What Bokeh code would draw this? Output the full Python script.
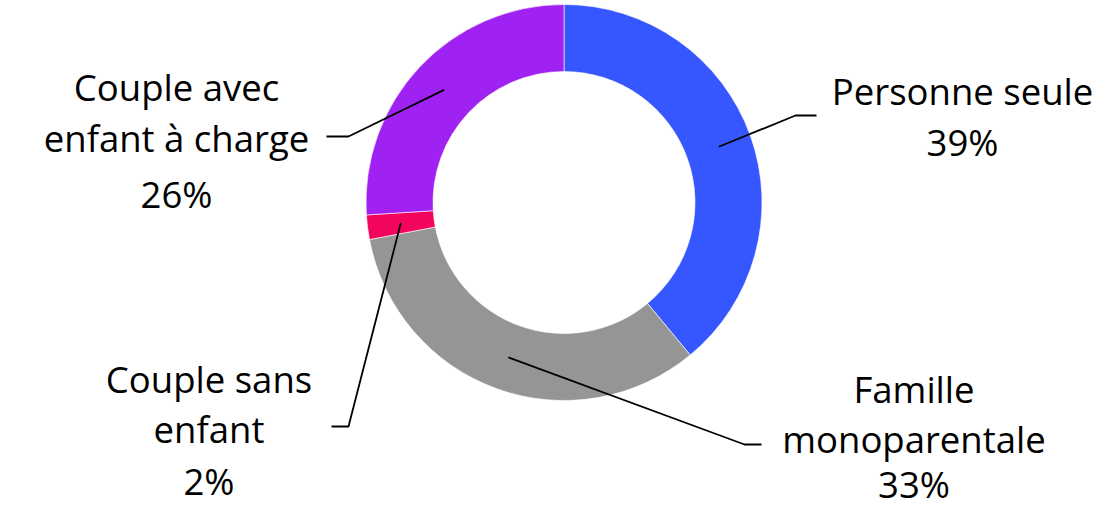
import numpy as np
from bokeh.plotting import figure
from bokeh.models import Range1d, ColumnDataSource
from bokeh.core.properties import value
from bokeh.embed import file_html
from bokeh.resources import INLINE

# ---- data ----
categories = ["Personne seule", "Famille monoparentale", "Couple sans enfant", "Couple avec enfant à charge"]
shares = [39, 33, 2, 26]
pct_labels = ["39%", "33%", "2%", "26%"]
label_lines = [["Personne seule"], ["Famille", "monoparentale"], ["Couple sans", "enfant"], ["Couple avec", "enfant à charge"]]
colors = ["#3656FF", "#949594", "#F2055C", "#9F22F2"]

# ---- layout (pixel units, centre of donut at 0,0, y up) ----
R_OUT, R_IN = 198, 131
elbows = [(231.5, 87), (180.5, -242), (-215.5, -224), (-215.5, 66)]
ends = [(252.5, 87), (197.5, -242), (-232.5, -224), (-237.5, 66)]
text_x = [398.5, 350, -355, -387.5]
# text baselines relative to donut centre (y up)
text_base = [[101, 50], [-197, -247, -292], [-187, -237, -289], [105, 54, -2]]
FONT = "Open Sans"
FS = 36.5
MID_OFF = 0.3 * FS

W, H = 1101, 510
p = figure(width=W, height=H, output_backend="svg", toolbar_location=None,
           x_range=Range1d(-563.5, 537.5), y_range=Range1d(202 - H, 202),
           min_border=0, tools="")
p.axis.visible = False
p.grid.visible = False
p.outline_line_color = None
p.background_fill_color = "white"
p.border_fill_color = "white"

vals = np.array(shares, dtype=float)
frac = vals / vals.sum()
cum = np.concatenate([[0], np.cumsum(frac)])
start = np.pi / 2 - cum[1:] * 2 * np.pi
end = np.pi / 2 - cum[:-1] * 2 * np.pi
src = ColumnDataSource(dict(start=start, end=end, color=colors, cat=categories))
p.annular_wedge(x=0, y=0, inner_radius=R_IN, outer_radius=R_OUT, start_angle="start", end_angle="end",
                color="color", line_color="white", line_width=0.6, source=src)

mid = (start + end) / 2
r_mid = (R_IN + R_OUT) / 2
for i in range(len(shares)):
    sx, sy = r_mid * np.cos(mid[i]), r_mid * np.sin(mid[i])
    p.line([sx, elbows[i][0], ends[i][0]], [sy, elbows[i][1], ends[i][1]], line_color="black", line_width=1.8)
    lines = label_lines[i] + [pct_labels[i]]
    for j, t in enumerate(lines):
        p.text(x=[text_x[i]], y=[text_base[i][j] + MID_OFF], text=[t], text_align="center", text_baseline="middle",
               text_font=value(FONT), text_font_size=f"{FS}px", text_color="black")

open("out.html", "w").write(file_html(p, INLINE))
